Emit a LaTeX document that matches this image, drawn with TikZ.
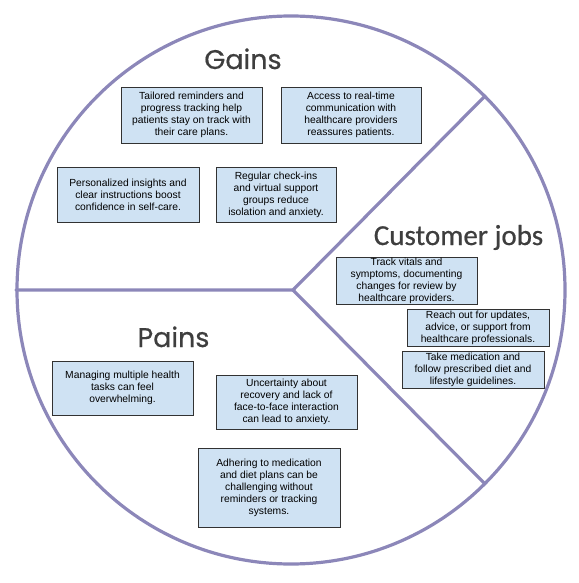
\documentclass[tikz,border=0pt]{standalone}
\usepackage{fontspec}
\setmainfont{Liberation Sans}
\newfontfamily\titlefont[FakeBold=0.6]{Poppins}
\newfontfamily\jobsfont[FakeBold=0.6]{Carlito}
\definecolor{ringcol}{RGB}{140,135,185}
\definecolor{boxfill}{RGB}{207,226,243}
\definecolor{boxline}{RGB}{50,50,50}
\definecolor{titlecol}{RGB}{62,62,62}
\begin{document}
\begin{tikzpicture}[x=1pt,y=-1pt,
  ring/.style={draw=ringcol, line width=3.2pt},
  note/.style={draw=boxline, fill=boxfill, line width=0.8pt, inner sep=0pt,
    align=center, font=\fontsize{10.3}{12}\selectfont},
  title/.style={anchor=base, text=titlecol, inner sep=0pt},
]
\useasboundingbox (0,0) rectangle (578,583);

% the wheel: outer ring and three spokes
\coordinate (hub) at (293,290);
\coordinate (west) at (16,290);
\coordinate (ne) at (484.7,96.3);
\coordinate (se) at (484.7,483.7);
\draw[ring] (291,290) circle[radius=274pt];
\draw[ring, line cap=round] (west) -- (hub) -- (ne);
\draw[ring, line cap=round] (hub) -- (se);

% section titles
\node[title, font=\titlefont\fontsize{27}{30}\selectfont] (tgains) at (243,69) {Gains};
\node[title, font=\jobsfont\fontsize{29}{32}\selectfont] (tjobs) at (458.5,245) {Customer jobs};
\node[title, font=\titlefont\fontsize{27}{30}\selectfont] (tpains) at (173.5,347) {Pains};

% gains
\node[note, minimum width=141pt, minimum height=56pt] (g1) at (191.5,115)
  {Tailored reminders and\\progress tracking help\\patients stay on track with\\their care plans.};
\node[note, minimum width=140pt, minimum height=56pt] (g2) at (351,115)
  {Access to real-time\\communication with\\healthcare providers\\reassures patients.};
\node[note, minimum width=142pt, minimum height=55pt] (g3) at (128,194.5)
  {Personalized insights and\\clear instructions boost\\confidence in self-care.};
\node[note, minimum width=120pt, minimum height=55pt] (g4) at (276,194.5)
  {Regular check-ins\\and virtual support\\groups reduce\\isolation and anxiety.};

% customer jobs
\node[note, minimum width=141pt, minimum height=47pt] (j1) at (406.5,280.5)
  {Track vitals and\\symptoms, documenting\\changes for review by\\healthcare providers.};
\node[note, minimum width=142pt, minimum height=37pt] (j2) at (478,327.5)
  {Reach out for updates,\\advice, or support from\\healthcare professionals.};
\node[note, minimum width=142pt, minimum height=37pt] (j3) at (473,369.5)
  {Take medication and\\follow prescribed diet and\\lifestyle guidelines.};

% pains
\node[note, minimum width=141pt, minimum height=54pt] (p1) at (122.5,388)
  {Managing multiple health\\tasks can feel\\overwhelming.};
\node[note, minimum width=141pt, minimum height=54pt] (p2) at (286.5,402)
  {Uncertainty about\\recovery and lack of\\face-to-face interaction\\can lead to anxiety.};
\node[note, minimum width=142pt, minimum height=79pt] (p3) at (269,487.5)
  {Adhering to medication\\and diet plans can be\\challenging without\\reminders or tracking\\systems.};
\end{tikzpicture}
\end{document}
